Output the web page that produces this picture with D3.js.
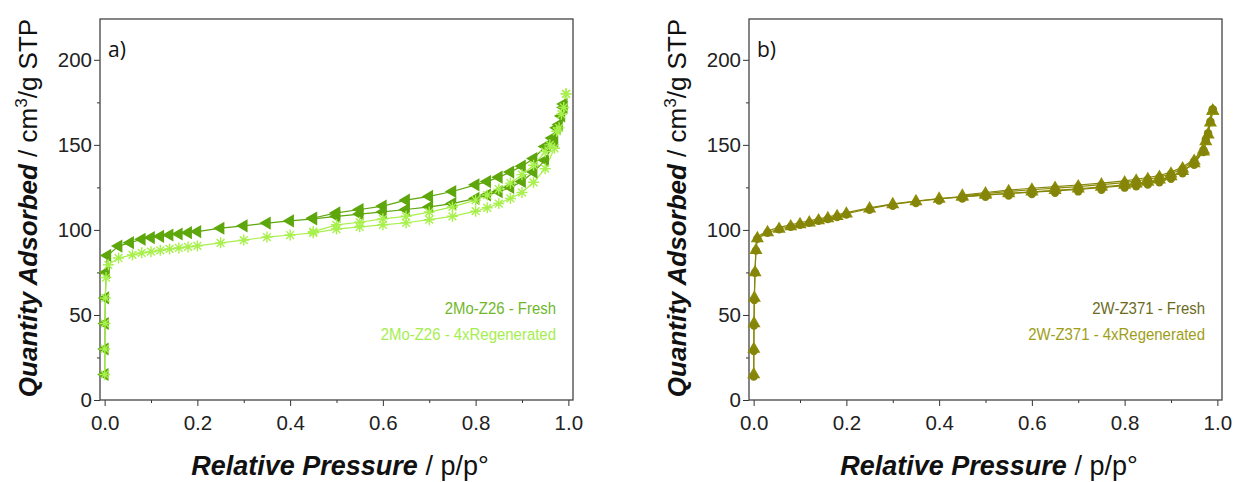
<!DOCTYPE html>
<html>
<head>
<meta charset="utf-8">
<script src="https://cdn.jsdelivr.net/npm/d3@7"></script>
<style>
  body { margin: 0; background: #fff; }
  svg { display: block; font-family: "Liberation Sans", Arial, sans-serif; }
</style>
</head>
<body>
<div class="box"></div>
<script>
// ---- data: [relative pressure, quantity adsorbed] ----
const moFreshAds = [[0.0002,15],[0.0004,30],[0.0008,45],[0.0015,60],[0.003,75],[0.006,85],[0.03,90.5],[0.055,92.5],[0.08,94.5],[0.1,95.5],[0.12,96.2],[0.14,97],[0.16,97.6],[0.18,98.4],[0.2,99],[0.25,101],[0.3,102.4],[0.35,104],[0.4,105.3],[0.45,106.5],[0.5,108],[0.55,109.3],[0.6,110.6],[0.65,112],[0.7,113.5],[0.75,115.5],[0.8,118.5],[0.825,120.5],[0.85,122.5],[0.875,125],[0.9,128.5],[0.925,134],[0.95,141],[0.97,152],[0.98,162],[0.99,172]];
const moFreshDes = [[0.99,174],[0.985,167],[0.975,160],[0.965,154],[0.95,149],[0.925,142],[0.9,137.5],[0.875,134],[0.85,131],[0.825,128.4],[0.8,126.5],[0.75,122.6],[0.7,119.7],[0.65,117.5],[0.6,114],[0.55,112],[0.5,110],[0.45,107]];
const moRegenAds = [[0.0002,15],[0.0004,30],[0.0008,45],[0.0015,60],[0.003,72],[0.008,79.5],[0.03,83.5],[0.06,85.3],[0.08,86.5],[0.1,87.2],[0.12,88],[0.14,88.8],[0.16,89.4],[0.18,90],[0.2,90.6],[0.25,92.4],[0.3,94],[0.35,95.8],[0.4,97],[0.45,98.3],[0.5,100.5],[0.55,101.8],[0.6,103],[0.65,104.2],[0.7,106],[0.75,108],[0.8,111],[0.825,113],[0.85,115.5],[0.875,118.5],[0.9,122],[0.925,128],[0.95,136],[0.97,148],[0.98,160],[0.99,172],[0.995,180]];
const moRegenDes = [[0.995,180],[0.985,168],[0.975,158],[0.96,150],[0.95,146],[0.925,138],[0.9,132.5],[0.875,127.5],[0.85,124],[0.825,120.5],[0.8,117.5],[0.75,113.5],[0.7,110.5],[0.65,108],[0.6,106.5],[0.55,104.5],[0.5,103],[0.45,99]];

const wFreshAds = [[0.0002,15],[0.0004,30],[0.0008,45],[0.0015,60],[0.003,75],[0.005,88],[0.008,95],[0.03,98.5],[0.055,100.5],[0.08,102],[0.1,103.2],[0.12,104.3],[0.14,105.5],[0.16,106.8],[0.18,108],[0.2,109.5],[0.25,112.5],[0.3,115],[0.35,116.8],[0.4,118.2],[0.45,119.4],[0.5,120.5],[0.55,121.5],[0.6,122.4],[0.65,123.3],[0.7,124.2],[0.75,125.3],[0.8,126.5],[0.825,127.2],[0.85,128.2],[0.875,129.5],[0.9,131.5],[0.925,134.5],[0.95,139],[0.97,146],[0.98,156],[0.99,170]];
const wFreshDes = [[0.99,170],[0.985,163],[0.975,152],[0.97,147],[0.95,140.5],[0.925,136],[0.9,133],[0.875,131],[0.85,129.8],[0.825,128.8],[0.8,127.8],[0.75,126.6],[0.7,125.5],[0.65,124.6],[0.6,123.6],[0.55,122.6],[0.5,121.3],[0.45,120]];
const wRegenAds = [[0.0002,15],[0.0004,30],[0.0008,45],[0.0015,60],[0.003,76],[0.005,89],[0.008,96],[0.03,99.5],[0.055,101.5],[0.08,103],[0.1,104.2],[0.12,105.3],[0.14,106.5],[0.16,107.6],[0.18,108.8],[0.2,110.2],[0.25,113],[0.3,115.3],[0.35,117],[0.4,118.4],[0.45,119.6],[0.5,120.6],[0.55,121.4],[0.6,122.2],[0.65,123],[0.7,123.8],[0.75,124.8],[0.8,126],[0.825,126.8],[0.85,127.8],[0.875,129.2],[0.9,131.2],[0.925,134.5],[0.95,139.5],[0.97,147],[0.98,158],[0.99,172]];
const wRegenDes = [[0.99,172],[0.985,165],[0.975,154],[0.97,148],[0.95,141.5],[0.925,137],[0.9,134],[0.875,132],[0.85,130.8],[0.825,129.8],[0.8,128.8],[0.75,127.5],[0.7,126.4],[0.65,125.5],[0.6,124.5],[0.55,123.4],[0.5,122],[0.45,120.5]];

const yTicks = [0, 50, 100, 150, 200];
const yMinor = [25, 75, 125, 175];
const xTicks = [0, 0.2, 0.4, 0.6, 0.8, 1.0];
const xMinor = [0.1, 0.3, 0.5, 0.7, 0.9];

const W = 1237, H = 482;
const svg = d3.select('.box').append('svg')
    .attr('width', W).attr('height', H);

// custom 8-spoke asterisk
const asterisk = (r) => {
    let p = '';
    for (let i = 0; i < 4; i++) {
        const a = i * Math.PI / 4;
        const dx = r * Math.cos(a), dy = r * Math.sin(a);
        p += `M${-dx},${-dy}L${dx},${dy}`;
    }
    return p;
};
const triPath = d3.symbol().type(d3.symbolTriangle).size(75)();
const triUpPath = d3.symbol().type(d3.symbolTriangle).size(75)();
const circPath = d3.symbol().type(d3.symbolCircle).size(55)();

const drawPanel = (cfg) => {
    const x = d3.scaleLinear().domain([-0.01, 1.01]).range([cfg.left, cfg.left + 473]);
    const y = d3.scaleLinear().domain([0, 224]).range([400, 19]);
    const g = svg.append('g');

    // y axis
    const yAx = g.append('g').attr('transform', `translate(${cfg.left},0)`)
        .call(d3.axisLeft(y).tickValues(yTicks).tickSize(6).tickPadding(2));
    g.append('g').attr('transform', `translate(${cfg.left},0)`)
        .call(d3.axisLeft(y).tickValues(yMinor).tickSize(3).tickFormat(''))
        .select('.domain').remove();
    // x axis
    const xAx = g.append('g').attr('transform', 'translate(0,400)')
        .call(d3.axisBottom(x).tickValues(xTicks).tickSize(6).tickPadding(9).tickFormat(d3.format('.1f')));
    g.append('g').attr('transform', 'translate(0,400)')
        .call(d3.axisBottom(x).tickValues(xMinor).tickSize(3).tickFormat(''))
        .select('.domain').remove();
    g.selectAll('.tick line').attr('stroke', '#333');
    [yAx, xAx].forEach(a => {
        a.select('.domain').remove();
        a.selectAll('text').attr('font-size', 20.5).attr('fill', '#222')
            .attr('font-family', '"Liberation Sans", Arial, sans-serif');
    });

    // frame
    g.append('rect')
        .attr('x', cfg.left).attr('y', 19)
        .attr('width', 473).attr('height', 381)
        .attr('fill', 'none').attr('stroke', '#444').attr('stroke-width', 1.3);

    const line = d3.line().x(d => x(d[0])).y(d => y(d[1]));

    cfg.series.forEach(s => {
        [s.ads, s.des].forEach(arr => {
            g.append('path').datum(arr)
                .attr('d', line)
                .attr('fill', 'none')
                .attr('stroke', s.color)
                .attr('stroke-width', 1.2);
        });
    });
    cfg.series.forEach(s => {
        const pts = s.ads.concat(s.des);
        const m = g.append('g').selectAll('path').data(pts).enter().append('path');
        if (s.marker === 'triLeft') {
            m.attr('d', triPath)
             .attr('transform', d => `translate(${x(d[0])},${y(d[1])}) rotate(-90)`)
             .attr('fill', s.color);
        } else if (s.marker === 'asterisk') {
            m.attr('d', asterisk(5.5))
             .attr('transform', d => `translate(${x(d[0])},${y(d[1])})`)
             .attr('fill', 'none').attr('stroke', s.color).attr('stroke-width', 1.4);
        } else if (s.marker === 'triUp') {
            m.attr('d', triUpPath)
             .attr('transform', d => `translate(${x(d[0])},${y(d[1])})`)
             .attr('fill', s.color);
        } else {
            m.attr('d', circPath)
             .attr('transform', d => `translate(${x(d[0])},${y(d[1]) + 2})`)
             .attr('fill', s.color);
        }
    });

    // legend text (slightly condensed like the source)
    cfg.series.forEach((s, i) => {
        g.append('text')
            .attr('transform', `translate(${cfg.left + 456},${314 + i * 26}) scale(0.88,1)`)
            .attr('text-anchor', 'end')
            .attr('font-size', 17)
            .attr('fill', s.textColor)
            .text(s.name);
    });

    // panel label
    g.append('text')
        .attr('x', cfg.left + 8).attr('y', 57)
        .attr('font-size', 21)
        .attr('font-family', '"Open Sans", sans-serif')
        .attr('fill', '#111')
        .text(cfg.label);

    // x title
    const xt = g.append('text')
        .attr('x', cfg.left + 240).attr('y', 475)
        .attr('text-anchor', 'middle')
        .attr('font-size', 27).attr('fill', '#111');
    xt.append('tspan').attr('font-weight', 'bold').attr('font-style', 'italic').text('Relative Pressure');
    xt.append('tspan').text(' / p/p°');

    // y title
    const yt = g.append('text')
        .attr('transform', `translate(${cfg.left - 63},208) rotate(-90)`)
        .attr('text-anchor', 'middle')
        .attr('font-size', 26).attr('fill', '#111');
    yt.append('tspan').attr('font-weight', 'bold').attr('font-style', 'italic').text('Quantity Adsorbed');
    yt.append('tspan').text(' / cm');
    yt.append('tspan').attr('font-size', 17).attr('dy', -10).text('3');
    yt.append('tspan').attr('dy', 10).text('/g STP');
};

drawPanel({
    left: 100, label: 'a)',
    series: [
        {name: '2Mo-Z26 - Fresh', ads: moFreshAds, des: moFreshDes, color: '#5da60c', textColor: '#6fb82c', marker: 'triLeft'},
        {name: '2Mo-Z26 - 4xRegenerated', ads: moRegenAds, des: moRegenDes, color: '#a8f04c', textColor: '#a6ee50', marker: 'asterisk'}
    ]
});
drawPanel({
    left: 749, label: 'b)',
    series: [
        {name: '2W-Z371 - Fresh', ads: wFreshAds, des: wFreshDes, color: '#8c8c06', textColor: '#6b6b1e', marker: 'triUp'},
        {name: '2W-Z371 - 4xRegenerated', ads: wRegenAds, des: wRegenDes, color: '#85850a', textColor: '#9e9e18', marker: 'circle'}
    ]
});
</script>
</body>
</html>
